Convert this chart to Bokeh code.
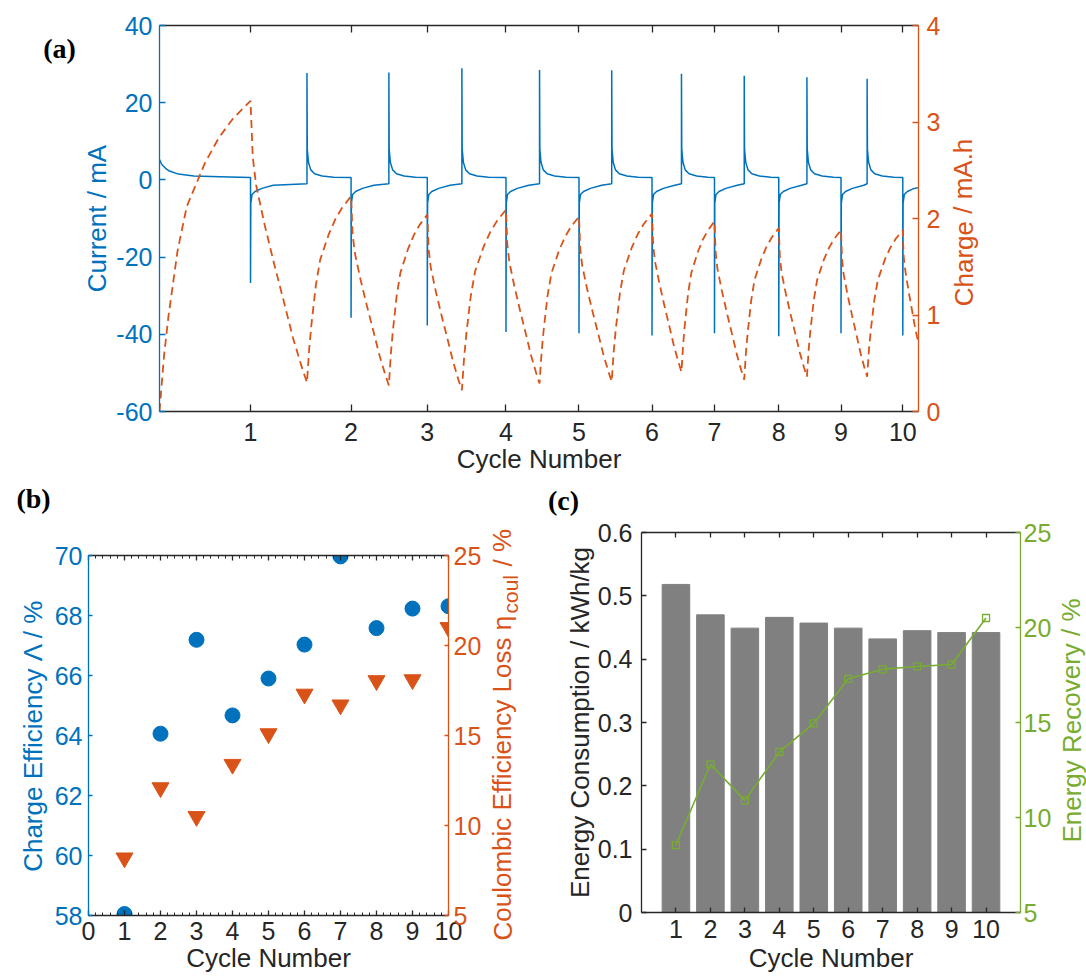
from bokeh.plotting import figure
from bokeh.models import Range1d, LinearAxis, FixedTicker, Label
from bokeh.layouts import column, row
from bokeh.embed import file_html
from bokeh.resources import INLINE

BLUE = "#0072BD"; ORANGE = "#D95319"; GREEN = "#77AC30"; GRAY = "#808080"; INK = "#262626"
FONT = "Liberation Sans"; TICK_FS = "25px"; LAB_FS = "26px"
PANEL_FONT = "Liberation Serif"; PANEL_FS = "28px"

# ---------------- panel (a) data: time axis in hours ----------------
cycle_end_t = [1.199, 2.524, 3.528, 4.565, 5.527, 6.489, 7.312, 8.159, 8.979, 9.793]
cycle_tick_labels = ["1", "2", "3", "4", "5", "6", "7", "8", "9", "10"]
t_end = 10.0
pos_switch_t = [1.943, 3.022, 3.984, 5.007, 5.958, 6.877, 7.704, 8.530, 9.323]
neg_peak_mA = [-26.7, -35.7, -37.7, -39.4, -39.7, -40.3, -39.7, -40.5, -39.7, -40.3]
pos_peak_mA = [27.7, 27.8, 28.9, 28.5, 28.4, 27.5, 27.0, 26.6, 26.2]
init_t = [0.0, 0.03, 0.08, 0.13, 0.25, 0.45, 0.8]
init_I = [5.3, 4.0, 3.0, 2.3, 1.5, 1.0, 0.8]
pos_relax_dt = [0.004, 0.02, 0.05, 0.10, 0.20, 0.35]
pos_relax_I = [8.0, 4.5, 2.6, 1.6, 1.0, 0.7]
neg_relax_dt = [0.004, 0.02, 0.06, 0.15, 0.30]
neg_relax_I = [-6.0, -3.8, -3.0, -2.2, -1.4]
pos_settle_mA = 0.6
neg_settle_mA = -1.0
end_I = -2.0
# charge at each switching instant (0, cycle ends, mid-cycle reversals, end)
charge_knot_Q = [0.0, 3.22, 0.30, 2.23, 0.27, 2.04, 0.22, 2.09, 0.29, 2.02, 0.31,
                 2.05, 0.41, 1.97, 0.33, 1.90, 0.36, 1.88, 0.36, 1.88, 0.71]
rise_u = [0, 0.05, 0.1, 0.2, 0.3, 0.5, 0.65, 0.8, 1.0]
rise_f = [0, 0.18, 0.31, 0.52, 0.66, 0.80, 0.88, 0.94, 1.0]
fall_u = [0, 0.04, 0.1, 0.25, 0.42, 0.6, 0.75, 0.9, 1.0]
fall_f = [0, 0.20, 0.30, 0.44, 0.58, 0.72, 0.84, 0.94, 1.0]
current_ticks = [-60, -40, -20, 0, 20, 40]
current_tick_labels = ["-60", "-40", "-20", "0", "20", "40"]
charge_ticks = [0, 1, 2, 3, 4]

# ---------------- panel (b) data ----------------
cycles = [1, 2, 3, 4, 5, 6, 7, 8, 9, 10]
charge_eff = [58.05, 64.06, 67.19, 64.67, 65.90, 67.03, 69.97, 67.58, 68.23, 68.31]
coul_loss = [8.2, 12.1, 10.5, 13.4, 15.1, 17.3, 16.7, 18.05, 18.1, 21.0]
b_x_ticks = [0, 1, 2, 3, 4, 5, 6, 7, 8, 9, 10]
b_left_ticks = [58, 60, 62, 64, 66, 68, 70]
b_right_ticks = [5, 10, 15, 20, 25]

# ---------------- panel (c) data ----------------
energy_cons = [0.518, 0.470, 0.449, 0.466, 0.457, 0.449, 0.432, 0.445, 0.442, 0.442]
energy_rec = [8.55, 12.8, 10.9, 13.45, 14.95, 17.3, 17.8, 17.95, 18.05, 20.5]
c_left_ticks = [0, 0.1, 0.2, 0.3, 0.4, 0.5, 0.6]
c_left_labels = ["0", "0.1", "0.2", "0.3", "0.4", "0.5", "0.6"]
c_right_ticks = [5, 10, 15, 20, 25]

# ---------------- build traces for (a) ----------------
cur_t = list(init_t); cur_I = list(init_I)
for i, tn in enumerate(cycle_end_t):
    cur_t += [tn, tn]; cur_I += [pos_settle_mA, neg_peak_mA[i]]
    t_next = pos_switch_t[i] if i < len(pos_switch_t) else t_end
    for dt, v in zip(neg_relax_dt, neg_relax_I):
        if tn + dt < t_next - 0.01:
            cur_t.append(tn + dt); cur_I.append(v)
    if i < len(pos_switch_t):
        tp = pos_switch_t[i]
        cur_t += [tp, tp]; cur_I += [neg_settle_mA, pos_peak_mA[i]]
        t_after = cycle_end_t[i + 1]
        for dt, v in zip(pos_relax_dt, pos_relax_I):
            if tp + dt < t_after - 0.01:
                cur_t.append(tp + dt); cur_I.append(v)
    else:
        cur_t.append(t_end); cur_I.append(end_I)

knots_t = sorted([0.0] + cycle_end_t + pos_switch_t + [t_end])
q_t = [knots_t[0]]; q_v = [charge_knot_Q[0]]
for k in range(len(knots_t) - 1):
    t0, t1 = knots_t[k], knots_t[k + 1]
    q0, q1 = charge_knot_Q[k], charge_knot_Q[k + 1]
    us, fs = (rise_u, rise_f) if q1 > q0 else (fall_u, fall_f)
    for u, f in zip(us[1:], fs[1:]):
        q_t.append(t0 + u * (t1 - t0)); q_v.append(q0 + f * (q1 - q0))


def make_fig(w, h, xr, yr, bl, br, bt, bb):
    p = figure(title=None, width=w, height=h, x_range=xr, y_range=yr, output_backend="svg",
               toolbar_location=None, tools="", min_border_left=bl, min_border_right=br,
               min_border_top=bt, min_border_bottom=bb)
    p.xgrid.visible = False
    p.ygrid.visible = False
    p.outline_line_color = None
    p.background_fill_color = "white"
    p.border_fill_color = "white"
    return p


def label_fig(w, h):
    f = figure(title=None, width=w, height=h, x_range=Range1d(0, 1), y_range=Range1d(0, 1),
               output_backend="svg", toolbar_location=None, tools="",
               x_axis_location=None, y_axis_location=None, min_border=0,
               min_border_left=0, min_border_right=0, min_border_top=0, min_border_bottom=0)
    f.xgrid.visible = False
    f.ygrid.visible = False
    f.outline_line_color = None
    f.background_fill_color = "white"
    f.border_fill_color = "white"
    return f


def style_axis(ax, color, text_color, tick_in, standoff):
    ax.axis_line_color = color
    ax.axis_line_width = 1.3
    ax.major_tick_line_color = color
    ax.major_tick_line_width = 1.3
    ax.major_tick_in = tick_in
    ax.major_tick_out = 0
    ax.minor_tick_line_color = None
    ax.major_label_text_color = text_color
    ax.major_label_text_font = FONT
    ax.major_label_text_font_size = TICK_FS
    ax.major_label_standoff = standoff
    ax.axis_label_text_font = FONT
    ax.axis_label_text_font_size = LAB_FS
    ax.axis_label_text_font_style = "normal"
    ax.axis_label_text_color = text_color


def hidden_top(p, ticker, tick_in):
    ax = LinearAxis(ticker=ticker)
    style_axis(ax, INK, INK, tick_in, 0)
    ax.major_label_text_font_size = "1px"
    ax.major_label_text_color = None
    p.add_layout(ax, "above")
    return ax


def lab(p, text, x, y, color=INK, size=LAB_FS, angle=0.0, align="center", font=FONT,
        style="normal"):
    p.add_layout(Label(x=x, y=y, x_units="canvas", y_units="canvas", text=text,
                       text_color=color, text_font=font, text_font_size=size,
                       text_font_style=style, angle=angle, text_align=align,
                       text_baseline="middle"))

# ================= panel (a) =================
fa_left = label_fig(79, 482)
lab(fa_left, "(a)", 59, 48, size=PANEL_FS, font=PANEL_FONT, style="bold", color="black")

pa = make_fig(867, 482, Range1d(0, t_end), Range1d(-60, 40), 80, 28, 25, 71)
pa.extra_y_ranges = {"right": Range1d(0, 4)}
pa.line(cur_t, cur_I, line_color=BLUE, line_width=1.5)
pa.line(q_t, q_v, line_color=ORANGE, line_width=1.8, line_dash="8 5", y_range_name="right")
xa = pa.xaxis[0]
xa.ticker = FixedTicker(ticks=cycle_end_t)
xa.major_label_overrides = {t: s for t, s in zip(cycle_end_t, cycle_tick_labels)}
style_axis(xa, INK, INK, 7, 11)
xa.axis_label = "Cycle Number"
xa.axis_label_standoff = 0
ya = pa.yaxis[0]
ya.ticker = FixedTicker(ticks=current_ticks)
ya.major_label_overrides = {t: s for t, s in zip(current_ticks, current_tick_labels)}
style_axis(ya, BLUE, BLUE, 6, 7)
ya.axis_label = "Current / mA"
ya.axis_label_standoff = 1
yar = LinearAxis(y_range_name="right", ticker=FixedTicker(ticks=charge_ticks))
style_axis(yar, ORANGE, ORANGE, 6, 8)
pa.add_layout(yar, "right")
hidden_top(pa, FixedTicker(ticks=cycle_end_t), 7)

fa_right = label_fig(140, 482)
lab(fa_right, "Charge / mA.h", 17, 222, color=ORANGE, angle=1.5708)

# ================= strip with panel letters (b), (c) =================
strip = label_fig(1086, 34)
lab(strip, "(b)", 33, 16, size=PANEL_FS, font=PANEL_FONT, style="bold", color="black")
lab(strip, "(c)", 563, 18, size=PANEL_FS, font=PANEL_FONT, style="bold", color="black")

# ================= panel (b) =================
pb = make_fig(488, 463, Range1d(0, 10), Range1d(58, 70), 88, 40, 39, 64)
pb.extra_y_ranges = {"right": Range1d(5, 25)}
pb.scatter(cycles, coul_loss, marker="inverted_triangle", size=17, fill_color=ORANGE,
           line_color=ORANGE, y_range_name="right")
pb.scatter(cycles, charge_eff, marker="circle", size=15, fill_color=BLUE, line_color=BLUE)
xb = pb.xaxis[0]
xb.ticker = FixedTicker(ticks=b_x_ticks, minor_ticks=[i * 0.2 for i in range(51)])
style_axis(xb, INK, INK, 5, 6)
xb.minor_tick_line_color = INK
xb.minor_tick_in = 3
xb.minor_tick_out = 0
xb.axis_label = "Cycle Number"
xb.axis_label_standoff = 0
yb = pb.yaxis[0]
yb.ticker = FixedTicker(ticks=b_left_ticks)
style_axis(yb, BLUE, BLUE, 4, 6)
yb.axis_label = "Charge Efficiency \u039b / %"
yb.axis_label_standoff = 4
ybr = LinearAxis(y_range_name="right", ticker=FixedTicker(ticks=b_right_ticks))
style_axis(ybr, ORANGE, ORANGE, 4, 5)
pb.add_layout(ybr, "right")
tb = hidden_top(pb, FixedTicker(ticks=b_x_ticks, minor_ticks=[i * 0.2 for i in range(51)]), 5)
tb.minor_tick_line_color = INK
tb.minor_tick_in = 3
tb.minor_tick_out = 0

fb_right = label_fig(60, 463)
lab(fb_right, "Coulombic Efficiency Loss \u03b7", 14, 424, color=ORANGE, angle=1.5708, align="left")
lab(fb_right, "coul", 22, 97, color=ORANGE, size="21px", angle=1.5708, align="left")
lab(fb_right, "/ %", 14, 50, color=ORANGE, angle=1.5708, align="left")

# ================= panel (c) =================
pc = make_fig(508, 463, Range1d(0, 11), Range1d(0, 0.6), 93, 36, 16, 67)
pc.extra_y_ranges = {"right": Range1d(5, 25)}
pc.vbar(x=cycles, top=energy_cons, width=0.8, fill_color=GRAY, line_color=GRAY)
pc.line(cycles, energy_rec, line_color=GREEN, line_width=1.6, y_range_name="right")
pc.scatter(cycles, energy_rec, marker="square", size=7, fill_alpha=0, line_color=GREEN,
           line_width=1.3, y_range_name="right")
xc = pc.xaxis[0]
xc.ticker = FixedTicker(ticks=cycles)
style_axis(xc, INK, INK, 5, 7)
xc.axis_label = "Cycle Number"
xc.axis_label_standoff = 2
yc = pc.yaxis[0]
yc.ticker = FixedTicker(ticks=c_left_ticks)
yc.major_label_overrides = {t: s for t, s in zip(c_left_ticks, c_left_labels)}
style_axis(yc, INK, INK, 5, 9)
yc.axis_label = "Energy Consumption / kWh/kg"
yc.axis_label_standoff = 0
ycr = LinearAxis(y_range_name="right", ticker=FixedTicker(ticks=c_right_ticks))
style_axis(ycr, GREEN, GREEN, 5, 3)
pc.add_layout(ycr, "right")
hidden_top(pc, FixedTicker(ticks=cycles), 5)

fc_right = label_fig(30, 463)
lab(fc_right, "Energy Recovery / %", 15, 204, color=GREEN, angle=1.5708)

# each figure of the lower row in its own column so their frames are placed independently
layout = column(row(fa_left, pa, fa_right), strip,
                row(column(pb), column(fb_right), column(pc), column(fc_right)))
open("out.html", "w").write(file_html(layout, INLINE))
